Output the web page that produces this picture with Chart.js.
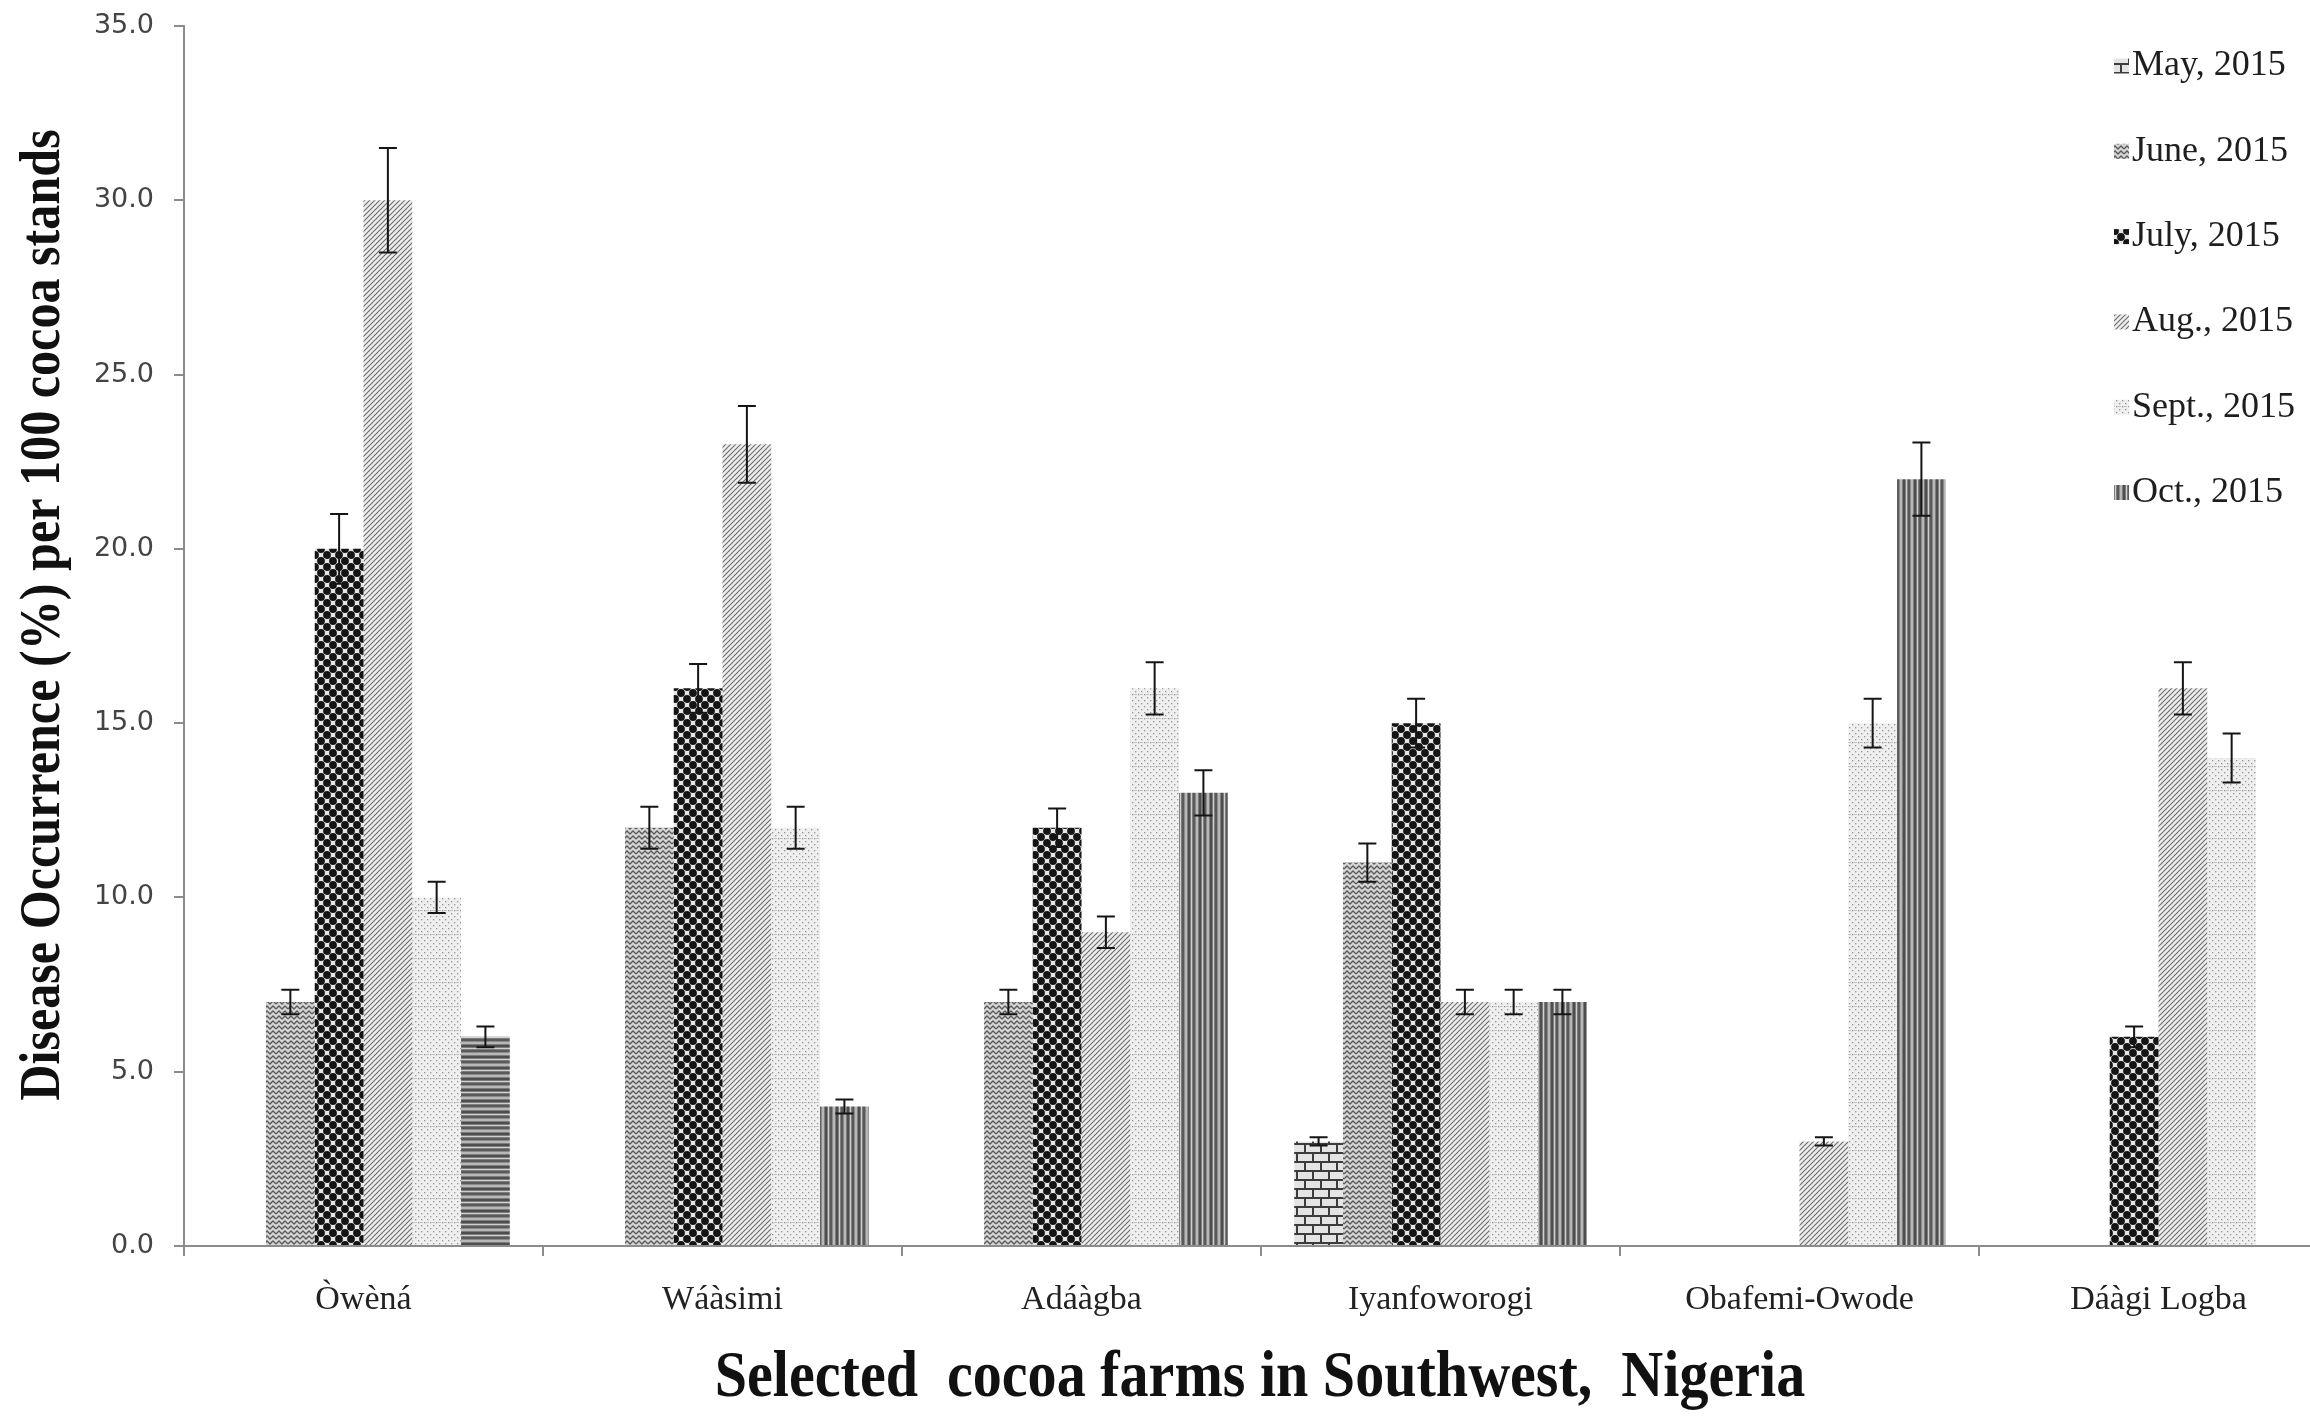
<!DOCTYPE html>
<html>
<head>
<meta charset="utf-8">
<title>Disease occurrence in selected cocoa farms</title>
<script src="https://cdn.jsdelivr.net/npm/chart.js@4.4.1/dist/chart.umd.min.js"></script>
<style>
  html, body { margin: 0; padding: 0; background: #fff; overflow: hidden; }
  #wrap { width: 2340px; height: 1416px; }
</style>
</head>
<body>
<div id="wrap"><canvas id="chart" width="2340" height="1416"></canvas></div>
<script>
// ---- data ----
const farms = ['Òwèná', 'Wáàsimi', 'Adáàgba', 'Iyanfoworogi', 'Obafemi-Owode', 'Dáàgi Logba'];
const months = ['May, 2015', 'June, 2015', 'July, 2015', 'Aug., 2015', 'Sept., 2015', 'Oct., 2015'];

const mayValues  = [null, null, null, 3,    null, null];
const juneValues = [7,    12,   7,    11,   null, null];
const julyValues = [20,   16,   12,   15,   null, 6];
const augValues  = [30,   23,   9,    7,    3,    16];
const septValues = [10,   12,   16,   7,    15,   14];
const octValues  = [6,    4,    13,   7,    22,   null];

// standard errors (±)
const mayErr  = [null, null, null, 0.12, null, null];
const juneErr = [0.35, 0.6,  0.35, 0.55, null, null];
const julyErr = [1.0,  0.7,  0.55, 0.7,  null, 0.3];
const augErr  = [1.5,  1.1,  0.45, 0.35, 0.12, 0.75];
const septErr = [0.45, 0.6,  0.75, 0.35, 0.7,  0.7];
const octErr  = [0.3,  0.2,  0.65, 0.35, 1.05, null];

const yTickValues = [0, 5, 10, 15, 20, 25, 30, 35];
const yTitle = 'Disease Occurrence (%) per 100 cocoa stands';
const xTitle = 'Selected  cocoa farms in Southwest,  Nigeria';

// ---- fill patterns ----
function makePattern(w, h, paint) {
  const c = document.createElement('canvas');
  c.width = w; c.height = h;
  const g = c.getContext('2d');
  paint(g, w, h);
  return g.createPattern(c, 'repeat');
}

const brick = makePattern(16, 18, (g, w, h) => {
  g.fillStyle = '#e4e4e4'; g.fillRect(0, 0, w, h);
  g.fillStyle = '#3c3c3c';
  g.fillRect(0, 0, w, 2); g.fillRect(0, 9, w, 2);
  g.fillRect(0, 0, 2, 9); g.fillRect(8, 9, 2, 9);
});

// wavy, woven-looking grey texture
const zigzag = makePattern(12, 10, (g, w, h) => {
  g.fillStyle = '#d6d6d6'; g.fillRect(0, 0, w, h);
  g.strokeStyle = '#5a5a5a'; g.lineWidth = 1.3;
  g.beginPath();
  g.moveTo(0, 4); g.lineTo(3, 1); g.lineTo(6, 4); g.lineTo(9, 1); g.lineTo(12, 4);
  g.moveTo(0, 9); g.lineTo(3, 6); g.lineTo(6, 9); g.lineTo(9, 6); g.lineTo(12, 9);
  g.stroke();
  g.fillStyle = '#8a8a8a';
  g.fillRect(1, 6, 1, 1); g.fillRect(7, 1, 1, 1);
});

const dots = makePattern(12, 12, (g, w, h) => {
  g.fillStyle = '#e6e6e6'; g.fillRect(0, 0, w, h);
  g.fillStyle = '#141414';
  for (const [cx, cy] of [[3, 3], [9, 9]]) {
    for (const dx of [-12, 0, 12]) for (const dy of [-12, 0, 12]) {
      g.beginPath(); g.arc(cx + dx, cy + dy, 3.9, 0, Math.PI * 2); g.fill();
    }
  }
});

const hatch = makePattern(5, 5, (g, w, h) => {
  g.fillStyle = '#eeeeee'; g.fillRect(0, 0, w, h);
  g.strokeStyle = '#707070'; g.lineWidth = 1.2;
  g.beginPath();
  g.moveTo(-1, 6); g.lineTo(6, -1);
  g.moveTo(-1, 1); g.lineTo(1, -1);
  g.moveTo(4, 6); g.lineTo(6, 4);
  g.stroke();
});

const speckle = makePattern(6, 24, (g, w, h) => {
  g.fillStyle = '#efefef'; g.fillRect(0, 0, w, h);
  g.fillStyle = '#959595';
  for (let y = 0; y < h; y += 6) {
    g.fillRect(1, y + 1, 1.3, 1.3); g.fillRect(4, y + 4, 1.3, 1.3);
  }
  g.fillStyle = '#c4c4c4';
  g.fillRect(0, 22, 3, 1);
});

const stripeColors = ['#4e4e4e', '#4e4e4e', '#7d7d7d', '#d0d0d0', '#7d7d7d', '#5a5a5a', '#5a5a5a', '#8a8a8a', '#b8b8b8', '#b8b8b8', '#7d7d7d'];
const vStripes = makePattern(stripeColors.length, 1, (g) => {
  stripeColors.forEach((col, i) => { g.fillStyle = col; g.fillRect(i, 0, 1, 1); });
});
const hStripes = makePattern(1, stripeColors.length, (g) => {
  stripeColors.forEach((col, i) => { g.fillStyle = col; g.fillRect(0, i, 1, 1); });
});

// ---- plugins ----
const errorBars = {
  id: 'errorBars',
  afterDatasetsDraw(chart, args, opts) {
    const ctx = chart.ctx;
    const yScale = chart.scales.y;
    ctx.save();
    ctx.strokeStyle = opts.color;
    ctx.lineWidth = opts.width;
    chart.data.datasets.forEach((ds, d) => {
      const meta = chart.getDatasetMeta(d);
      ds.data.forEach((v, i) => {
        const e = ds.errors[i];
        if (v == null || e == null) return;
        const x = meta.data[i].x;
        const yHi = yScale.getPixelForValue(v + e);
        const yLo = yScale.getPixelForValue(v - e);
        const hw = opts.cap / 2;
        ctx.beginPath();
        ctx.moveTo(x, yHi); ctx.lineTo(x, yLo);
        ctx.moveTo(x - hw, yHi); ctx.lineTo(x + hw, yHi);
        ctx.moveTo(x - hw, yLo); ctx.lineTo(x + hw, yLo);
        ctx.stroke();
      });
    });
    ctx.restore();
  }
};

const sideLegend = {
  id: 'sideLegend',
  afterDraw(chart, args, opts) {
    const ctx = chart.ctx;
    ctx.save();
    ctx.font = opts.font;
    ctx.textBaseline = 'middle';
    ctx.textAlign = 'left';
    chart.data.datasets.forEach((ds, i) => {
      const y = opts.top + i * opts.spacing;
      ctx.fillStyle = ds.swatch;
      ctx.fillRect(opts.x, y - opts.box / 2, opts.box, opts.box);
      ctx.fillStyle = opts.color;
      ctx.fillText(ds.label, opts.x + opts.box + opts.gap, y);
    });
    ctx.restore();
  }
};

const axisTitles = {
  id: 'axisTitles',
  afterDraw(chart, args, o) {
    const ctx = chart.ctx;
    ctx.save();
    ctx.fillStyle = o.color;
    ctx.textAlign = 'center';
    ctx.textBaseline = 'alphabetic';
    // vertical title
    ctx.save();
    ctx.font = `bold ${o.ySize}px "Liberation Serif"`;
    ctx.translate(o.yX, o.yY);
    ctx.rotate(-Math.PI / 2);
    ctx.scale(o.squeeze, 1);
    ctx.fillText(o.yText, 0, 0);
    ctx.restore();
    // horizontal title
    ctx.save();
    ctx.font = `bold ${o.xSize}px "Liberation Serif"`;
    ctx.translate(o.xX, o.xY);
    ctx.scale(o.squeeze, 1);
    ctx.fillText(o.xText, 0, 0);
    ctx.restore();
    ctx.restore();
  }
};

// ---- chart ----
const seriesValues = [mayValues, juneValues, julyValues, augValues, septValues, octValues];
const seriesErrors = [mayErr, juneErr, julyErr, augErr, septErr, octErr];
const seriesFills  = [brick, zigzag, dots, hatch, speckle, [hStripes, vStripes, vStripes, vStripes, vStripes, vStripes]];
const seriesSwatch = [brick, zigzag, dots, hatch, speckle, vStripes];

const datasets = months.map((m, k) => ({
  label: m,
  data: seriesValues[k],
  errors: seriesErrors[k],
  backgroundColor: seriesFills[k],
  swatch: seriesSwatch[k],
  borderWidth: 0,
  barPercentage: 1.0,
  categoryPercentage: 0.815
}));

const axisGrey = '#8c8c8c';

new Chart(document.getElementById('chart'), {
  type: 'bar',
  data: { labels: farms, datasets },
  plugins: [errorBars, sideLegend, axisTitles],
  options: {
    responsive: false,
    animation: false,
    devicePixelRatio: 1,
    layout: { padding: { top: 26, right: 2, left: 0, bottom: 0 } },
    plugins: {
      legend: { display: false },
      tooltip: { enabled: false },
      errorBars: { color: '#151515', width: 2, cap: 18 },
      sideLegend: {
        x: 2114, top: 66, spacing: 85.3, box: 15, gap: 3,
        font: '36px "Liberation Serif"', color: '#1e1e1e'
      },
      axisTitles: {
        color: '#111', squeeze: 0.88,
        yText: yTitle, ySize: 57, yX: 59, yY: 615,
        xText: xTitle, xSize: 66, xX: 1260, xY: 1396
      }
    },
    scales: {
      x: {
        grid: { drawOnChartArea: false, drawTicks: true, tickLength: 10, color: axisGrey, lineWidth: 2, offset: true },
        border: { color: axisGrey, width: 2 },
        ticks: { font: { family: 'Liberation Serif', size: 34 }, color: '#222', padding: 24, maxRotation: 0 },
        afterFit(scale) { scale.height = 170; }
      },
      y: {
        min: 0, max: 35,
        afterBuildTicks(scale) { scale.ticks = yTickValues.map(v => ({ value: v })); },
        ticks: {
          callback: v => Number(v).toFixed(1),
          font: { family: 'DejaVu Sans', size: 27 }, color: '#444', padding: 20
        },
        grid: { drawOnChartArea: false, drawTicks: true, tickLength: 10, color: axisGrey, lineWidth: 2 },
        border: { color: axisGrey, width: 2 },
        afterFit(scale) {
          scale.width = 184;
          scale.paddingTop = 0;
          scale.paddingBottom = 0;
        }
      }
    }
  }
});
</script>
</body>
</html>
